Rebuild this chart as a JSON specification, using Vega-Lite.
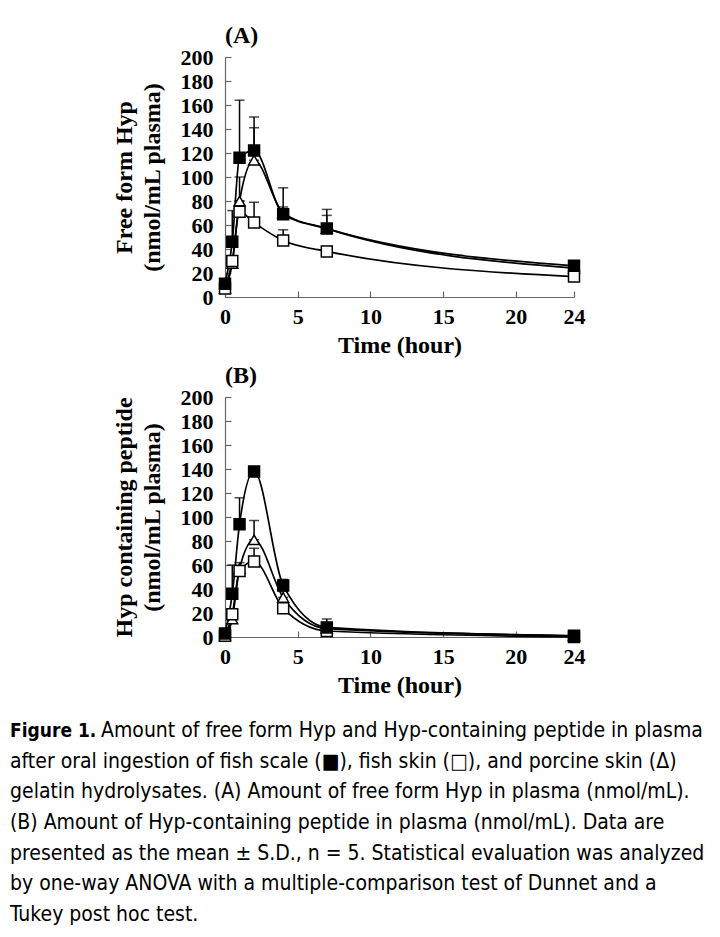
{
  "$schema": "https://vega.github.io/schema/vega-lite/v6.json",
  "padding": {"left": 10, "top": 24, "right": 10, "bottom": 8},
  "background": "white",
  "bounds": "flush",
  "spacing": 100,
  "datasets": {
    "A": [
      {"series": "Porcine skin", "t": 0, "mean": 7, "hi": null},
      {"series": "Porcine skin", "t": 0.5, "mean": 28, "hi": null},
      {"series": "Porcine skin", "t": 1, "mean": 80, "hi": 100},
      {"series": "Porcine skin", "t": 2, "mean": 114, "hi": 141},
      {"series": "Porcine skin", "t": 4, "mean": 70, "hi": 75},
      {"series": "Porcine skin", "t": 7, "mean": 57, "hi": 68},
      {"series": "Porcine skin", "t": 24, "mean": 24, "hi": null},
      {"series": "Fish skin", "t": 0, "mean": 7, "hi": null},
      {"series": "Fish skin", "t": 0.5, "mean": 30, "hi": null},
      {"series": "Fish skin", "t": 1, "mean": 71, "hi": 80},
      {"series": "Fish skin", "t": 2, "mean": 62, "hi": 79},
      {"series": "Fish skin", "t": 4, "mean": 47, "hi": 56},
      {"series": "Fish skin", "t": 7, "mean": 38, "hi": 40},
      {"series": "Fish skin", "t": 24, "mean": 17, "hi": 19},
      {"series": "Fish scale", "t": 0, "mean": 11, "hi": null},
      {"series": "Fish scale", "t": 0.5, "mean": 46, "hi": 72},
      {"series": "Fish scale", "t": 1, "mean": 116, "hi": 164},
      {"series": "Fish scale", "t": 2, "mean": 122, "hi": 150},
      {"series": "Fish scale", "t": 4, "mean": 69, "hi": 91},
      {"series": "Fish scale", "t": 7, "mean": 57, "hi": 73},
      {"series": "Fish scale", "t": 24, "mean": 26, "hi": 28}
    ],
    "B": [
      {"series": "Porcine skin", "t": 0, "mean": 1, "hi": null},
      {"series": "Porcine skin", "t": 0.5, "mean": 15, "hi": null},
      {"series": "Porcine skin", "t": 1, "mean": 57, "hi": null},
      {"series": "Porcine skin", "t": 2, "mean": 81, "hi": 97},
      {"series": "Porcine skin", "t": 4, "mean": 33, "hi": 38},
      {"series": "Porcine skin", "t": 7, "mean": 7, "hi": null},
      {"series": "Porcine skin", "t": 24, "mean": 1, "hi": null},
      {"series": "Fish skin", "t": 0, "mean": 1, "hi": null},
      {"series": "Fish skin", "t": 0.5, "mean": 19, "hi": null},
      {"series": "Fish skin", "t": 1, "mean": 55, "hi": 62},
      {"series": "Fish skin", "t": 2, "mean": 63, "hi": 74},
      {"series": "Fish skin", "t": 4, "mean": 24, "hi": 28},
      {"series": "Fish skin", "t": 7, "mean": 5, "hi": null},
      {"series": "Fish skin", "t": 24, "mean": 0, "hi": null},
      {"series": "Fish scale", "t": 0, "mean": 3, "hi": null},
      {"series": "Fish scale", "t": 0.5, "mean": 36, "hi": 60},
      {"series": "Fish scale", "t": 1, "mean": 94, "hi": 116},
      {"series": "Fish scale", "t": 2, "mean": 138, "hi": null},
      {"series": "Fish scale", "t": 4, "mean": 43, "hi": 48},
      {"series": "Fish scale", "t": 7, "mean": 8, "hi": 15},
      {"series": "Fish scale", "t": 24, "mean": 1, "hi": null}
    ],
    "caption": [
      {"line": 1, "part": "label", "text": "Figure 1."},
      {"line": 1, "part": "first", "text": "Amount of free form Hyp and Hyp-containing peptide in plasma"},
      {"line": 2, "part": "body", "text": "after oral ingestion of fish scale (■), fish skin (□), and porcine skin (Δ)"},
      {"line": 3, "part": "body", "text": "gelatin hydrolysates. (A) Amount of free form Hyp in plasma (nmol/mL)."},
      {"line": 4, "part": "body", "text": "(B) Amount of Hyp-containing peptide in plasma (nmol/mL). Data are"},
      {"line": 5, "part": "body", "text": "presented as the mean ± S.D., n = 5. Statistical evaluation was analyzed"},
      {"line": 6, "part": "body", "text": "by one-way ANOVA with a multiple-comparison test of Dunnet and a"},
      {"line": 7, "part": "body", "text": "Tukey post hoc test."}
    ]
  },
  "vconcat": [
    {
      "width": 349,
      "height": 240,
      "title": {"text": "(A)"},
      "data": {"name": "A"},
      "encoding": {
        "x": {"field": "t", "type": "quantitative", "scale": {"domain": [0, 24], "nice": false},
              "axis": {"values": [0, 5, 10, 15, 20, 24], "title": "Time (hour)", "labelOverlap": false, "labelPadding": 15, "titlePadding": 6}},
        "y": {"field": "mean", "type": "quantitative", "scale": {"domain": [0, 200], "nice": false},
              "axis": {"values": [0, 20, 40, 60, 80, 100, 120, 140, 160, 180, 200], "labelOverlap": false, "labelSeparation": -10, "labelPadding": 18, "titlePadding": 16, "title": ["Free form Hyp", "(nmol/mL plasma)"]}}
      },
      "layer": [
        {
          "mark": {"type": "line", "interpolate": "monotone", "color": "black", "strokeWidth": 1.7},
          "encoding": {"detail": {"field": "series"}}
        },
        {
          "transform": [{"filter": "datum.hi != null"}],
          "mark": {"type": "errorbar", "ticks": true, "size": 10, "thickness": 1.5, "color": "black"},
          "encoding": {"y2": {"field": "hi"}}
        },
        {
          "mark": {"type": "point", "filled": true, "size": 120, "stroke": "black", "strokeWidth": 1.5, "opacity": 1},
          "encoding": {
            "shape": {"field": "series", "type": "nominal", "legend": null,
                      "scale": {"domain": ["Porcine skin", "Fish skin", "Fish scale"], "range": ["triangle-up", "square", "square"]}},
            "fill": {"field": "series", "type": "nominal", "legend": null,
                     "scale": {"domain": ["Porcine skin", "Fish skin", "Fish scale"], "range": ["white", "white", "black"]}}
          }
        }
      ]
    },
    {
      "width": 349,
      "height": 240,
      "title": {"text": "(B)"},
      "data": {"name": "B"},
      "encoding": {
        "x": {"field": "t", "type": "quantitative", "scale": {"domain": [0, 24], "nice": false},
              "axis": {"values": [0, 5, 10, 15, 20, 24], "title": "Time (hour)", "labelOverlap": false, "labelPadding": 15, "titlePadding": 6}},
        "y": {"field": "mean", "type": "quantitative", "scale": {"domain": [0, 200], "nice": false},
              "axis": {"values": [0, 20, 40, 60, 80, 100, 120, 140, 160, 180, 200], "labelOverlap": false, "labelSeparation": -10, "labelPadding": 18, "titlePadding": 16, "title": ["Hyp containing peptide", "(nmol/mL plasma)"]}}
      },
      "layer": [
        {
          "mark": {"type": "line", "interpolate": "monotone", "color": "black", "strokeWidth": 1.7},
          "encoding": {"detail": {"field": "series"}}
        },
        {
          "transform": [{"filter": "datum.hi != null"}],
          "mark": {"type": "errorbar", "ticks": true, "size": 10, "thickness": 1.5, "color": "black"},
          "encoding": {"y2": {"field": "hi"}}
        },
        {
          "mark": {"type": "point", "filled": true, "size": 120, "stroke": "black", "strokeWidth": 1.5, "opacity": 1},
          "encoding": {
            "shape": {"field": "series", "type": "nominal", "legend": null,
                      "scale": {"domain": ["Porcine skin", "Fish skin", "Fish scale"], "range": ["triangle-up", "square", "square"]}},
            "fill": {"field": "series", "type": "nominal", "legend": null,
                     "scale": {"domain": ["Porcine skin", "Fish skin", "Fish scale"], "range": ["white", "white", "black"]}}
          }
        }
      ]
    },
    {
      "width": 690,
      "height": 184,
      "data": {"name": "caption"},
      "encoding": {
        "y": {"field": "line", "type": "ordinal", "axis": null, "scale": {"type": "point", "padding": 0}},
        "text": {"field": "text"}
      },
      "layer": [
        {
          "transform": [{"filter": "datum.part == 'label'"}],
          "mark": {"type": "text", "align": "left", "baseline": "alphabetic", "dx": -560,
                   "font": "Liberation Sans Narrow, Arial Narrow, DejaVu Sans Condensed, Liberation Sans, sans-serif", "fontSize": 19, "fontWeight": "bold", "color": "black"}
        },
        {
          "transform": [{"filter": "datum.part == 'first'"}],
          "mark": {"type": "text", "align": "left", "baseline": "alphabetic", "dx": -469,
                   "font": "Liberation Sans Narrow, Arial Narrow, DejaVu Sans Condensed, Liberation Sans, sans-serif", "fontSize": 21, "color": "black"}
        },
        {
          "transform": [{"filter": "datum.part == 'body'"}],
          "mark": {"type": "text", "align": "left", "baseline": "alphabetic", "dx": -560,
                   "font": "Liberation Sans Narrow, Arial Narrow, DejaVu Sans Condensed, Liberation Sans, sans-serif", "fontSize": 21, "color": "black"}
        }
      ]
    }
  ],
  "config": {
    "view": {"stroke": null},
    "title": {"font": "Liberation Serif", "fontSize": 24, "fontWeight": "bold", "color": "black", "anchor": "start", "frame": "group", "offset": -2},
    "axis": {
      "grid": false,
      "labelFont": "Liberation Serif", "labelFontSize": 22, "labelFontWeight": "bold", "labelColor": "black",
      "titleFont": "Liberation Serif", "titleFontSize": 24, "titleFontWeight": "bold", "titleColor": "black",
      "domainColor": "#666", "domainWidth": 1.2, "tickColor": "#666", "tickWidth": 1.2, "tickSize": -6,
      "titleLineHeight": 28, "labelFlush": false, "labelOverlap": false
    }
  }
}
